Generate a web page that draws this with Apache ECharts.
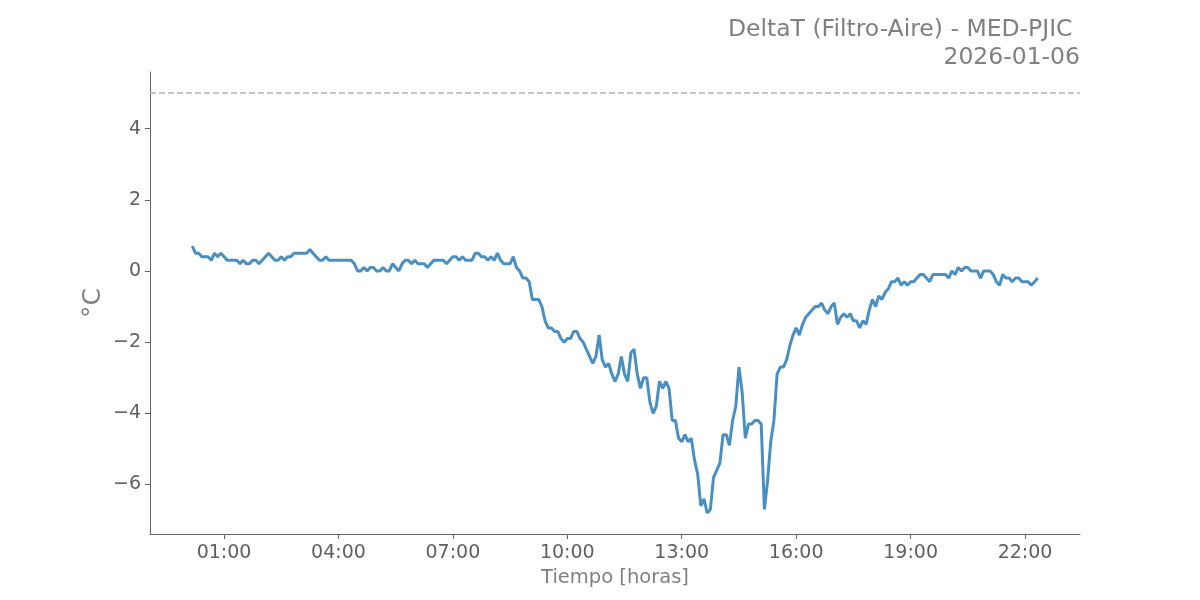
<!DOCTYPE html>
<html>
<head>
<meta charset="utf-8">
<script src="https://cdn.jsdelivr.net/npm/echarts@6/dist/echarts.min.js"></script>
<style>html,body{margin:0;padding:0;background:#fff;}#chart{width:1200px;height:600px;}</style>
</head>
<body>
<div id="chart"></div>
<script>
const titleLines = ['DeltaT (Filtro-Aire) - MED-PJIC ', '2026-01-06'];
const xAxisName = 'Tiempo [horas]';
const yAxisName = '°C';
const thresholdValue = 5;

const times = [
 '00:10','00:15','00:20','00:25','00:30','00:35','00:40','00:45','00:50','00:55',
 '01:00','01:05','01:10','01:15','01:20','01:25','01:30','01:35','01:40','01:45','01:50','01:55',
 '02:00','02:05','02:10','02:15','02:20','02:25','02:30','02:35','02:40','02:45','02:50','02:55',
 '03:00','03:05','03:10','03:15','03:20','03:25','03:30','03:35','03:40','03:45','03:50','03:55',
 '04:00','04:05','04:10','04:15','04:20','04:25','04:30','04:35','04:40','04:45','04:50','04:55',
 '05:00','05:05','05:10','05:15','05:20','05:25','05:30','05:35','05:40','05:45','05:50','05:55',
 '06:00','06:05','06:10','06:15','06:20','06:25','06:30','06:35','06:40','06:45','06:50','06:55',
 '07:00','07:05','07:10','07:15','07:20','07:25','07:30','07:35','07:40','07:45','07:50','07:55',
 '08:00','08:05','08:10','08:15','08:20','08:25','08:30','08:35','08:40','08:45','08:50','08:55',
 '09:00','09:05','09:10','09:15','09:20','09:25','09:30','09:35','09:40','09:45','09:50','09:55',
 '10:00','10:05','10:10','10:15','10:20','10:25','10:30','10:35','10:40','10:45','10:50','10:55',
 '11:00','11:05','11:10','11:15','11:20','11:25','11:30','11:35','11:40','11:45','11:50','11:55',
 '12:00','12:05','12:10','12:15','12:20','12:25','12:30','12:35','12:40','12:45','12:50','12:55',
 '13:00','13:05','13:10','13:15','13:20','13:25','13:30','13:35','13:40','13:45','13:50','13:55',
 '14:00','14:05','14:10','14:15','14:20','14:25','14:30','14:35','14:40','14:45','14:50','14:55',
 '15:00','15:05','15:10','15:15','15:20','15:25','15:30','15:35','15:40','15:45','15:50','15:55',
 '16:00','16:05','16:10','16:15','16:20','16:25','16:30','16:35','16:40','16:45','16:50','16:55',
 '17:00','17:05','17:10','17:15','17:20','17:25','17:30','17:35','17:40','17:45','17:50','17:55',
 '18:00','18:05','18:10','18:15','18:20','18:25','18:30','18:35','18:40','18:45','18:50','18:55',
 '19:00','19:05','19:10','19:15','19:20','19:25','19:30','19:35','19:40','19:45','19:50','19:55',
 '20:00','20:05','20:10','20:15','20:20','20:25','20:30','20:35','20:40','20:45','20:50','20:55',
 '21:00','21:05','21:10','21:15','21:20','21:25','21:30','21:35','21:40','21:45','21:50','21:55',
 '22:00','22:05','22:10','22:15','22:20'
];

const deltaT = [
 0.7,0.5,0.5,0.4,0.4,0.4,0.3,0.5,0.4,0.5,
 0.4,0.3,0.3,0.3,0.3,0.2,0.3,0.2,0.2,0.3,0.3,0.2,
 0.3,0.4,0.5,0.4,0.3,0.3,0.4,0.3,0.4,0.4,0.5,0.5,
 0.5,0.5,0.5,0.6,0.5,0.4,0.3,0.3,0.4,0.3,0.3,0.3,
 0.3,0.3,0.3,0.3,0.3,0.2,0.0,0.0,0.1,0.0,0.1,0.1,
 0.0,0.0,0.1,0.0,0.0,0.2,0.1,0.0,0.2,0.3,0.3,0.2,
 0.3,0.2,0.2,0.2,0.1,0.2,0.3,0.3,0.3,0.3,0.2,0.3,
 0.4,0.4,0.3,0.4,0.3,0.3,0.3,0.5,0.5,0.4,0.4,0.3,
 0.4,0.3,0.5,0.3,0.2,0.2,0.2,0.4,0.1,0.0,-0.2,-0.2,
 -0.3,-0.8,-0.8,-0.8,-1.0,-1.4,-1.6,-1.6,-1.7,-1.7,-1.9,-2.0,
 -1.9,-1.9,-1.7,-1.7,-1.9,-2.0,-2.2,-2.4,-2.6,-2.4,-1.8,-2.5,
 -2.7,-2.6,-2.9,-3.1,-2.9,-2.4,-2.9,-3.1,-2.3,-2.2,-2.9,-3.3,
 -3.0,-3.0,-3.7,-4.0,-3.8,-3.1,-3.3,-3.1,-3.3,-4.2,-4.2,-4.7,
 -4.8,-4.6,-4.8,-4.7,-5.3,-5.7,-6.6,-6.4,-6.8,-6.7,-5.8,-5.6,
 -5.4,-4.6,-4.6,-4.9,-4.2,-3.8,-2.7,-3.4,-4.7,-4.3,-4.3,-4.2,
 -4.2,-4.3,-6.7,-5.9,-4.8,-4.2,-2.9,-2.7,-2.7,-2.5,-2.1,-1.8,
 -1.6,-1.8,-1.5,-1.3,-1.2,-1.1,-1.0,-1.0,-0.9,-1.1,-1.2,-1.0,
 -0.9,-1.5,-1.3,-1.2,-1.3,-1.2,-1.4,-1.4,-1.6,-1.4,-1.5,-1.1,
 -0.8,-1.0,-0.7,-0.8,-0.6,-0.5,-0.3,-0.3,-0.2,-0.4,-0.3,-0.4,
 -0.3,-0.3,-0.2,-0.1,-0.1,-0.2,-0.3,-0.1,-0.1,-0.1,-0.1,-0.1,
 -0.2,0.0,-0.1,0.1,0.0,0.1,0.1,0.0,0.0,0.0,-0.2,0.0,
 0.0,0.0,-0.1,-0.3,-0.4,-0.1,-0.2,-0.2,-0.3,-0.2,-0.2,-0.3,
 -0.3,-0.3,-0.4,-0.3,-0.2
];

const xTickLabels = ['01:00','04:00','07:00','10:00','13:00','16:00','19:00','22:00'];
const yTickValues = [-6,-4,-2,0,2,4];
const xRange = [-0.9417, 23.4417];
const yRange = [-7.39, 5.59];

function toHours(s){ const p = s.split(':'); return (+p[0]) + (+p[1])/60; }
const xTickValues = xTickLabels.map(toHours);
const seriesData = times.map((t,i) => [toHours(t), deltaT[i]]);
function fmtHour(v){
  const h = Math.round(v*60);
  const hh = Math.floor(h/60), mm = h%60;
  return String(hh).padStart(2,'0') + ':' + String(mm).padStart(2,'0');
}

const FONT = 'DejaVu Sans';
const titleStyle = {fontFamily: FONT, fontSize: 23.5, fontWeight: 'normal', color: '#808080'};
const chart = echarts.init(document.getElementById('chart'), null, {renderer:'canvas'});
chart.setOption({
  animation: false,
  backgroundColor: '#ffffff',
  textStyle: {fontFamily: FONT},
  title: [
    {text: titleLines[0], right: 120, top: 18, padding: 0, textStyle: titleStyle},
    {text: titleLines[1], right: 120, top: 46, padding: 0, textStyle: titleStyle}
  ],
  grid: {left:150, right:120, top:72, bottom:66, containLabel:false},
  xAxis: {
    type: 'value', min: xRange[0], max: xRange[1],
    name: xAxisName, nameLocation: 'middle', nameGap: 34, nameMoveOverlap: false,
    nameTextStyle: {fontFamily: FONT, fontSize: 19.5, color: '#808080'},
    axisLine: {show:true, onZero:false, lineStyle:{color:'#666666', width:1}},
    axisTick: {show:true, inside:false, length:5, customValues: xTickValues, lineStyle:{color:'#666666'}},
    axisLabel: {customValues: xTickValues, formatter: fmtHour, fontFamily: FONT, fontSize: 19, color:'#606060', margin: 10},
    splitLine: {show:false}
  },
  yAxis: {
    type: 'value', min: yRange[0], max: yRange[1],
    name: yAxisName, nameLocation: 'middle', nameGap: 44, nameRotate: 90, nameMoveOverlap: false,
    nameTextStyle: {fontFamily: FONT, fontSize: 25, color: '#808080'},
    axisLine: {show:true, onZero:false, lineStyle:{color:'#666666', width:1}},
    axisTick: {show:true, inside:false, length:5, customValues: yTickValues, lineStyle:{color:'#666666'}},
    axisLabel: {customValues: yTickValues, formatter: v => (v<0 ? '\u2212' + Math.abs(v) : String(v)), fontFamily: FONT, fontSize: 19, color:'#606060', margin: 9},
    splitLine: {show:false}
  },
  series: [{
    type: 'line',
    data: seriesData,
    showSymbol: false,
    symbol: 'none',
    lineStyle: {color: '#4a8fc2', width: 3},
    markLine: {
      silent: true, symbol: 'none',
      label: {show:false},
      lineStyle: {type:[6,3], color:'#b4b4b4', width:1.5},
      data: [{yAxis: thresholdValue}]
    }
  }]
});
</script>
</body>
</html>
